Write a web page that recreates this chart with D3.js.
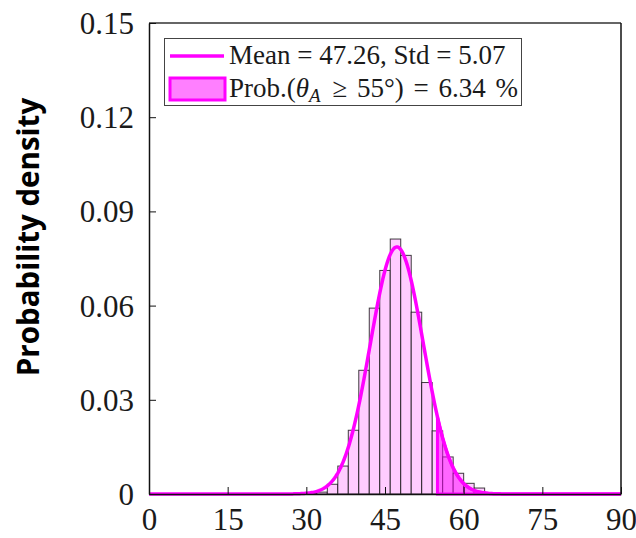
<!DOCTYPE html>
<html>
<head>
<meta charset="utf-8">
<script src="https://cdn.jsdelivr.net/npm/d3@7"></script>
<style>
  html, body { margin: 0; padding: 0; background: #fff; }
  svg { display: block; }
</style>
</head>
<body>
<svg id="chart" width="636" height="538"></svg>
<script>
// Histogram of angle samples (bin width 2 degrees)
const binLeft = [30, 32, 34, 36, 38, 40, 42, 44, 46, 48, 50, 52, 54, 56, 58, 60, 62, 64];
const binDensity = [0.0002, 0.0006, 0.0031, 0.0089, 0.0203, 0.0394, 0.0592, 0.0712, 0.0812,
                    0.0760, 0.0579, 0.0355, 0.0201, 0.0118, 0.0066, 0.0034, 0.0019, 0.0004];
const binWidth = 2;

// Fitted normal distribution parameters (as reported in the legend)
const fitMean = 47.26;
const fitStd = 5.07;
const threshold = 55;
const exceedPct = 6.34;

const xTicks = [0, 15, 30, 45, 60, 75, 90];
const yTicks = [0, 0.03, 0.06, 0.09, 0.12, 0.15];
const yTickLabels = ["0", "0.03", "0.06", "0.09", "0.12", "0.15"];

const svg = d3.select("#chart");
const L = 149, R = 621, T = 23, B = 494;

const x = d3.scaleLinear().domain([0, 90]).range([L, R]);
const y = d3.scaleLinear().domain([0, 0.15]).range([B, T]);

const magenta = "#ff00ff";

// histogram bars
svg.append("g").selectAll("rect")
  .data(binLeft.map((b, i) => ({ x0: b, x1: b + binWidth, d: binDensity[i] })))
  .join("rect")
  .attr("x", d => x(d.x0))
  .attr("y", d => y(d.d))
  .attr("width", d => x(d.x1) - x(d.x0))
  .attr("height", d => y(0) - y(d.d))
  .attr("fill", "#ffccff")
  .attr("stroke", "#000")
  .attr("stroke-opacity", 0.75)
  .attr("stroke-width", 1);

// normal pdf from the reported mean and std
const pdf = v => Math.exp(-0.5 * ((v - fitMean) / fitStd) ** 2) / (fitStd * Math.sqrt(2 * Math.PI));
const xs = d3.range(0, 90.001, 0.2);
const curve = xs.map(v => [v, pdf(v)]);

// tail area beyond the threshold
const tail = [[threshold, pdf(threshold)]].concat(curve.filter(p => p[0] > threshold));
svg.append("path")
  .datum(tail)
  .attr("d", d3.area().x(d => x(d[0])).y0(y(0)).y1(d => y(d[1])))
  .attr("fill", magenta)
  .attr("fill-opacity", 0.5)
  .attr("stroke", magenta)
  .attr("stroke-width", 3);

// fitted curve
svg.append("path")
  .datum(curve)
  .attr("d", d3.line().x(d => x(d[0])).y(d => y(d[1])))
  .attr("fill", "none")
  .attr("stroke", magenta)
  .attr("stroke-width", 3.5);

// axes frame
const frame = svg.append("g");
frame.append("line").attr("x1", L).attr("x2", R).attr("y1", T).attr("y2", T)
  .attr("stroke", "#333").attr("stroke-width", 1.5);
frame.append("line").attr("x1", R).attr("x2", R).attr("y1", T).attr("y2", B)
  .attr("stroke", "#111").attr("stroke-width", 1.5);

const serif = "'Liberation Serif', 'Times New Roman', serif";

const xAxis = svg.append("g")
  .attr("transform", `translate(0,${B})`)
  .call(d3.axisBottom(x).tickValues(xTicks).tickSizeInner(-7).tickSizeOuter(0).tickPadding(14)
    .tickFormat(d3.format("d")));
xAxis.select(".domain").attr("stroke", "#111").attr("stroke-width", 1.5);
xAxis.selectAll(".tick line").attr("stroke", "#111").attr("stroke-width", 1);
xAxis.selectAll(".tick text")
  .attr("font-family", serif).attr("font-size", 31).attr("fill", "#1a1a1a")
  .attr("dy", "0.72em");

const yAxis = svg.append("g")
  .attr("transform", `translate(${L},0)`)
  .call(d3.axisLeft(y).tickValues(yTicks).tickSizeInner(-7).tickSizeOuter(0).tickPadding(15)
    .tickFormat((d, i) => yTickLabels[i]));
yAxis.select(".domain").attr("stroke", "#111").attr("stroke-width", 1.5);
yAxis.selectAll(".tick line").attr("stroke", "#111").attr("stroke-width", 1);
yAxis.selectAll(".tick text")
  .attr("font-family", serif).attr("font-size", 31).attr("fill", "#1a1a1a")
  .attr("dy", "0.34em");

// y axis title
svg.append("text")
  .attr("transform", `translate(39,237) rotate(-90)`)
  .attr("text-anchor", "middle")
  .attr("font-family", "'Open Sans', sans-serif")
  .attr("font-weight", "bold")
  .attr("font-size", 29.5)
  .attr("fill", "#000")
  .text("Probability density");

// legend
const lg = svg.append("g");
lg.append("rect")
  .attr("x", 164.5).attr("y", 38.5).attr("width", 357).attr("height", 67)
  .attr("fill", "#fff").attr("stroke", "#444").attr("stroke-width", 1);
lg.append("line")
  .attr("x1", 170).attr("x2", 224).attr("y1", 56).attr("y2", 56)
  .attr("stroke", magenta).attr("stroke-width", 3.5);
lg.append("rect")
  .attr("x", 170).attr("y", 78).attr("width", 55).attr("height", 22)
  .attr("fill", magenta).attr("fill-opacity", 0.5)
  .attr("stroke", magenta).attr("stroke-width", 3);

const t1 = lg.append("text")
  .attr("x", 229).attr("y", 64)
  .attr("font-family", serif).attr("font-size", 27).attr("fill", "#1a1a1a");
t1.text(`Mean = ${fitMean}, Std = ${fitStd}`);

const t2 = lg.append("text")
  .attr("x", 229).attr("y", 97)
  .attr("font-family", serif).attr("font-size", 27).attr("fill", "#1a1a1a");
t2.append("tspan").text("Prob.(");
t2.append("tspan").attr("font-style", "italic").text("θ");
t2.append("tspan").attr("font-style", "italic").attr("font-size", 19).attr("dy", 5).text("A");
t2.append("tspan").attr("dy", -5).attr("dx", 2).attr("word-spacing", 3)
  .text(` ≥ ${threshold}°) = ${exceedPct} %`);
</script>
</body>
</html>
